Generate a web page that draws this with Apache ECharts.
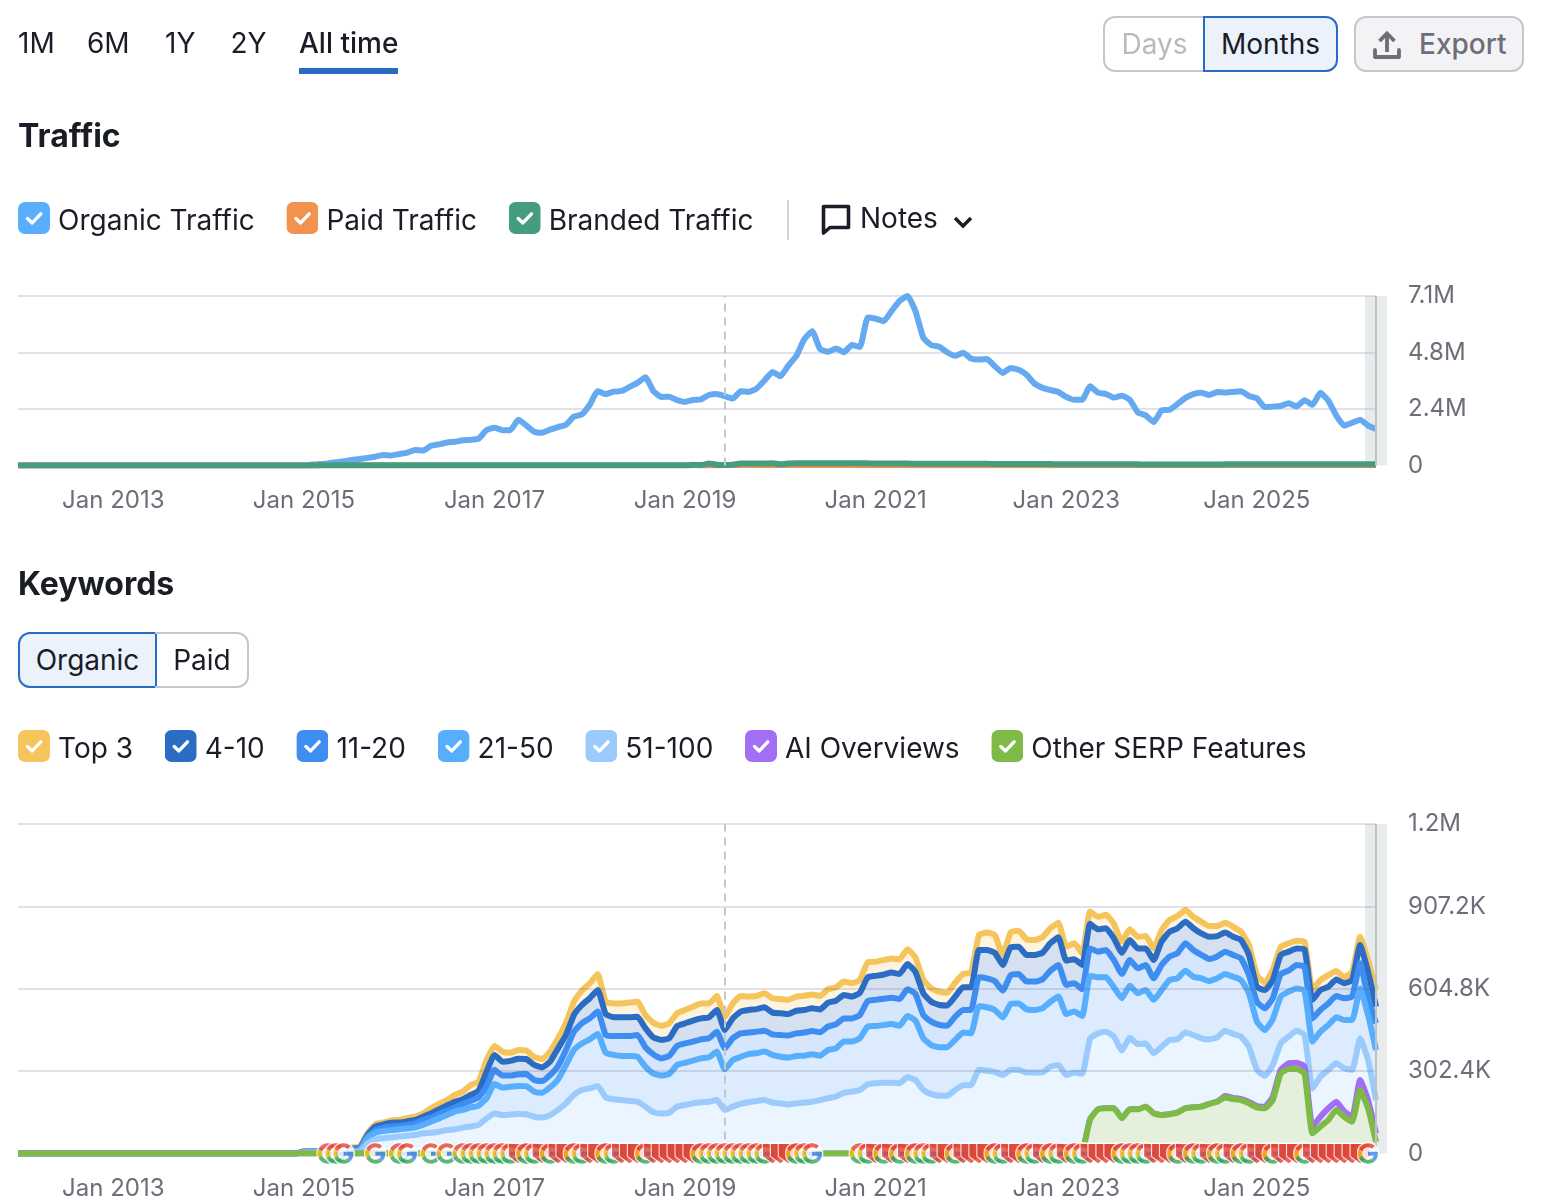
<!DOCTYPE html>
<html><head><meta charset="utf-8">
<script src="https://cdn.jsdelivr.net/npm/echarts@6/dist/echarts.min.js"></script>
<style>
html,body{margin:0;padding:0;background:#fff;font-family:Inter,"Noto Sans",sans-serif;color:#1a1c26}
#chart{position:absolute;left:0;top:0;width:1548px;height:1202px}
.ui{position:absolute;white-space:nowrap;line-height:1;box-sizing:border-box}
.tab{font-size:28px;top:29px}
.btn{top:16px;height:56px;font-size:28px;display:flex;align-items:center;justify-content:center;border:2px solid #c4c7cf}
.t2{top:632px;height:56px;font-size:28px;display:flex;align-items:center;justify-content:center;border:2px solid #c4c7cf}
</style></head><body>
<div id="chart"></div>
<div class="ui tab" style="left:18px">1M</div>
<div class="ui tab" style="left:87px">6M</div>
<div class="ui tab" style="left:165px">1Y</div>
<div class="ui tab" style="left:230.5px">2Y</div>
<div class="ui tab" style="left:299px;font-weight:500">All time</div>
<div class="ui" style="left:299px;top:68px;width:99px;height:6px;background:#2a6bc2"></div>
<div class="ui btn" style="left:1103px;width:101px;border-radius:12px 0 0 12px;color:#b9bac0;border-right:none">Days</div>
<div class="ui btn" style="left:1203px;width:135px;border-radius:0 12px 12px 0;background:#ebf2fc;border-color:#2a6bc2">Months</div>
<div class="ui btn" style="left:1354px;width:170px;border-radius:12px;background:#f3f3f5;color:#6c6e79;font-weight:500;justify-content:flex-start;padding-left:63px">Export
<svg style="position:absolute;left:16px;top:11px" width="30" height="32" viewBox="0 0 30 32"><path d="M15 23V5M7.5 12l7.5-7.5 7.5 7.5" fill="none" stroke="#6c6e79" stroke-width="3.8"/><path d="M3 21v7h24v-7" fill="none" stroke="#6c6e79" stroke-width="3.8" stroke-linejoin="round" stroke-linecap="round"/></svg></div>
<div class="ui" style="left:787px;top:200px;width:2px;height:40px;background:#d3d4da"></div>
<svg class="ui" style="left:820px;top:203px" width="32" height="32" viewBox="0 0 32 32"><path d="M3.5 3.5h25v21H10l-6.5 5.5z" fill="none" stroke="#1a1c26" stroke-width="3.6" stroke-linejoin="round"/></svg>
<div class="ui" style="left:860px;top:204px;font-size:28px">Notes</div>
<svg class="ui" style="left:952px;top:214px" width="22" height="16" viewBox="0 0 22 16"><path d="M3 4l8 8 8-8" fill="none" stroke="#1a1c26" stroke-width="3.4"/></svg>
<div class="ui t2" style="left:18px;width:139px;border-radius:12px 0 0 12px;background:#ebf2fc;border-color:#2a6bc2">Organic</div>
<div class="ui t2" style="left:155px;width:94px;border-radius:0 12px 12px 0;border-left:none;padding-left:2px">Paid</div>
<script>
// Time axis: one entry per month, Jan 2012 to Apr 2026
const monthNames=['Jan','Feb','Mar','Apr','May','Jun','Jul','Aug','Sep','Oct','Nov','Dec'];
const categories=[];
for(let y=2012;y<=2026;y++)for(let m=0;m<12;m++){if(y===2026&&m>3)break;categories.push(monthNames[m]+' '+y);}
const tickLabels=['Jan 2013','Jan 2015','Jan 2017','Jan 2019','Jan 2021','Jan 2023','Jan 2025'];
const markerMonth='Jun 2019';
const lastMonth='Apr 2026';

// Traffic, millions
const organicTraffic=[0,0,0,0,0,0,0,0,0,0,0,0,0,0,0,0,0,0,0,0,0,0,0,0,0,0,0,0,0,0,0,0,0,0,0,0,0,
.04,.06,.08,.14,.18,.23,.27,.32,.37,.44,.42,.48,.54,.65,.63,.83,.89,.97,1.0,1.06,1.08,1.13,1.49,1.59,1.49,1.49,1.93,1.69,1.42,1.38,1.51,1.62,1.72,2.06,2.15,2.56,3.13,3.01,3.11,3.14,3.31,3.48,3.72,3.14,2.89,2.90,2.75,2.68,2.76,
2.79,2.97,3.01,2.92,2.82,3.13,3.10,3.24,3.58,3.94,3.76,4.21,4.61,5.31,5.66,4.90,4.79,4.93,4.77,5.08,4.99,6.23,6.18,6.08,6.51,6.93,7.14,6.51,5.38,5.07,5.0,4.77,4.62,4.75,4.51,4.46,4.49,4.18,3.90,4.11,4.03,3.82,3.45,3.27,3.18,3.10,2.89,2.77,
2.77,3.34,3.07,3.01,2.86,2.94,2.77,2.24,2.11,1.83,2.32,2.35,2.59,2.85,3.01,3.06,2.97,3.10,3.07,3.10,3.13,2.93,2.83,2.46,2.48,2.51,2.62,2.49,2.75,2.56,3.06,2.73,2.10,1.68,1.80,1.93,1.68,1.54];
const paidTraffic=[0,0,0,0,0,0,0,0,0,0,0,0,0,0,0,0,0,0,0,0,0,0,0,0,0,0,0,0,0,0,0,0,0,0,0,0,0,0,0,0,0,0,0,0,0,0,0,0,0,0,0,0,0,0,0,0,0,0,0,0,0,0,0,0,0,0,0,0,0,0,0,0,0,0,0,0,0,0,0,0,0,0,0,0,0,
.03,0,0,0,.02,.02,.02,.02,.02,.01,.02,.02,.02,.02,.02,.02,.02,.02,.02,.02,.02,.01,.01,.01,.01,.01,.01,.01,.01,.01,.01,.01,.01,.01,.01,.01,.01,.01,.01,.01,.01,.01,.01,.01,.01,.01,.01,.01,.01,.01,.01,.01,.01,.01,.01,.01,.01,.01,.01,.01,.01,.01,.01,.01,.01,.01,.01,.01,.01,.01,.01,.01,.01,.01,.01,.01,.01,.01,.01,.01,.01,.01,.01,.01,.01,.01,.01];
const brandedTraffic=[0,0,0,0,0,0,0,0,0,0,0,0,0,0,0,0,0,0,0,0,0,0,0,0,0,0,0,0,0,0,0,0,0,0,0,0,0,0,
.01,.01,.01,.01,.01,.01,.01,.01,.01,.01,.01,.01,.01,.01,.01,.01,.01,.01,.01,.01,.01,.01,.01,.01,.01,.01,.01,.01,.01,.01,.01,.01,.01,.01,.01,.01,.01,.01,.01,.01,.01,.01,.01,.01,.01,.01,.01,.02,.02,
.08,.03,.02,.03,.08,.08,.08,.08,.09,.05,.08,.10,.10,.10,.10,.10,.10,.10,.10,.10,.09,.08,.08,.08,.08,.08,.07,.07,.07,.07,.07,.07,.07,.07,.07,.07,.06,.06,.06,.06,.06,.06,.06,.06,.05,.05,.05,.05,.05,.05,.05,.05,.05,.05,.05,.04,.04,.04,.04,.04,.04,.04,.04,.04,.04,.05,.05,.05,.05,.05,.05,.05,.05,.05,.05,.05,.05,.05,.05,.05,.05,.05,.05,.05,.05];

// Keywords, thousands: level of each drawn line
const top3=[0,0,0,0,0,0,0,0,0,0,0,0,0,0,0,0,0,0,0,0,0,0,0,0,0,0,0,0,0,0,0,0,0,0,0,0,8,8,8,8,8,8,22,24,
74,107,114,121,124,130,135,147,166,182,196,215,227,251,264,343,395,374,370,380,378,355,347,374,423,478,557,598,625,659,557,551,551,554,557,508,480,469,478,515,527,539,551,551,578,502,551,578,
576,578,588,570,567,564,576,579,584,578,603,610,631,625,637,702,704,710,716,713,750,720,637,606,594,590,627,659,664,802,811,802,729,812,818,786,784,794,827,847,759,772,735,888,869,876,843,778,823,796,798,753,820,857,872,894,869,851,835,835,847,833,814,765,655,627,674,759,772,781,778,600,637,655,670,647,667,796,710,600];
const pos4to10=[0,0,0,0,0,0,0,0,0,0,0,0,0,0,0,0,0,0,0,0,0,0,0,0,0,0,0,0,0,0,0,0,0,0,0,0,7,7,7,7,7,7,18,20,
68,99,107,113,114,118,123,135,147,162,176,190,199,215,231,300,362,337,340,348,347,325,316,337,386,435,508,545,570,600,512,500,500,500,502,460,426,417,423,468,478,488,496,500,527,453,496,521,
527,530,537,517,515,512,524,527,533,529,554,561,582,576,590,647,652,657,664,659,696,667,588,557,545,543,576,610,610,747,747,737,692,757,759,729,729,737,772,794,708,713,692,843,823,827,790,737,784,753,753,710,778,814,827,851,827,808,796,798,811,796,784,729,612,600,637,729,741,753,750,564,600,612,639,625,637,765,667,539];
const pos11to20=[0,0,0,0,0,0,0,0,0,0,0,0,0,0,0,0,0,0,0,0,0,0,0,0,0,0,0,0,0,0,0,0,0,0,0,0,6,6,6,6,6,6,14,16,
62,86,95,99,101,105,111,123,132,145,157,169,182,193,206,245,307,286,286,291,292,270,266,288,321,380,447,478,496,521,435,431,431,431,435,390,364,349,358,395,404,411,419,423,447,386,423,441,
444,447,451,437,435,433,441,444,450,445,466,474,496,496,508,560,564,568,572,567,603,586,508,484,472,469,502,527,527,647,643,633,598,655,659,631,631,639,671,692,619,625,603,753,741,747,710,659,710,680,692,643,692,723,735,772,747,729,714,723,741,729,716,655,557,533,570,659,671,692,686,496,527,551,578,570,576,698,570,478];
const pos21to50=[0,0,0,0,0,0,0,0,0,0,0,0,0,0,0,0,0,0,0,0,0,0,0,0,0,0,0,0,0,0,0,0,0,0,0,0,5,5,5,5,5,5,10,12,
56,76,83,86,89,92,96,105,117,129,141,154,160,169,176,203,255,242,245,248,247,227,223,243,272,325,380,404,419,439,370,362,358,358,355,319,294,286,292,325,333,341,349,353,374,309,343,355,
365,368,374,362,355,352,358,359,364,359,380,386,411,411,423,466,468,472,475,469,505,488,423,398,390,390,417,444,441,541,537,527,500,549,551,529,527,533,557,576,512,521,505,652,647,647,610,570,616,588,600,564,600,637,643,671,649,643,633,643,659,649,637,588,484,453,493,576,594,606,598,411,447,472,500,490,490,606,508,380];
const pos51to100=[0,0,0,0,0,0,0,0,0,0,0,0,0,0,0,0,0,0,0,0,0,0,0,0,0,0,0,0,0,0,0,0,0,0,0,0,4,4,4,4,4,4,5,6,
37,52,56,59,62,65,68,74,76,80,86,89,95,99,105,129,147,141,143,145,144,135,132,141,160,184,215,233,239,248,206,199,196,193,190,172,151,147,150,172,178,184,188,190,196,160,172,182,
188,193,196,187,184,180,184,187,190,196,203,209,223,227,233,254,258,260,260,258,280,270,233,218,212,212,233,251,251,307,304,300,288,307,307,297,297,298,319,325,288,297,294,423,441,447,429,378,425,402,404,368,392,417,419,444,435,423,419,426,451,439,429,392,307,285,325,404,429,451,435,239,282,307,331,313,307,423,343,196];
const otherSerp=[0,0,0,0,0,0,0,0,0,0,0,0,0,0,0,0,0,0,0,0,0,0,0,0,0,0,0,0,0,0,0,0,0,0,0,0,0,0,0,0,0,0,0,0,0,0,0,0,0,0,0,0,0,0,0,0,0,0,0,0,0,0,0,0,0,0,0,0,0,0,0,0,0,0,0,0,0,0,0,0,0,0,0,0,0,0,0,0,0,0,0,0,0,0,0,0,0,0,0,0,0,0,0,0,0,0,0,0,0,0,0,0,0,0,0,0,0,0,0,0,0,0,0,0,0,0,0,0,0,0,0,0,0,0,
5,125,162,166,166,129,162,162,172,147,141,144,150,166,169,172,182,190,206,200,196,184,169,166,196,294,310,310,294,74,99,123,160,135,117,233,166,43];
const aiOverviews=[0,0,0,0,0,0,0,0,0,0,0,0,0,0,0,0,0,0,0,0,0,0,0,0,0,0,0,0,0,0,0,0,0,0,0,0,0,0,0,0,0,0,0,0,0,0,0,0,0,0,0,0,0,0,0,0,0,0,0,0,0,0,0,0,0,0,0,0,0,0,0,0,0,0,0,0,0,0,0,0,0,0,0,0,0,0,0,0,0,0,0,0,0,0,0,0,0,0,0,0,0,0,0,0,0,0,0,0,0,0,0,0,0,0,0,0,0,0,0,0,0,0,0,0,0,0,0,0,0,0,0,0,0,0,
5,125,162,166,166,129,162,162,172,147,141,144,150,166,169,172,182,190,211,204,200,189,174,172,209,307,331,333,319,99,135,166,190,154,135,270,196,74];

// Months (index into categories) that carry a note icon
const googleNotes=[39,40,41,45,48,49,52,54,56,57,58,59,60,61,62,64,65,67,70,71,74,75,79,86,87,88,89,90,91,92,93,94,98,99,100,106,107,109,111,113,114,115,118,123,124,127,128,130,131,133,134,139,140,141,142,146,148,149,151,152,154,155,158,162,170];
const redNotes=[63,66,68,69,72,73,76,77,78,80,81,82,83,84,85,95,96,97,108,110,112,116,117,119,120,121,122,125,126,129,132,135,136,137,138,143,144,145,147,150,153,156,157,159,160,161,163,164,165,166,167,168,169];

const svgUri=s=>'image://data:image/svg+xml;charset=utf-8,'+encodeURIComponent(s);
const checkIcon=c=>svgUri(`<svg xmlns="http://www.w3.org/2000/svg" width="64" height="80" viewBox="0 0 32 40"><rect width="32" height="32" rx="7" fill="${c}"/><path d="M9.5 16.5l4.7 4.4 8.6-9" fill="none" stroke="#fff" stroke-width="3.4" stroke-linecap="round" stroke-linejoin="round"/></svg>`);
const googleIcon=svgUri(`<svg xmlns="http://www.w3.org/2000/svg" width="66" height="66" viewBox="-3 -3 54 54"><circle cx="24" cy="24" r="27" fill="#fff"/><path fill="#EA4335" d="M24 9.5c3.54 0 6.71 1.22 9.21 3.6l6.85-6.85C35.9 2.38 30.47 0 24 0 14.62 0 6.51 5.38 2.56 13.22l7.98 6.19C12.43 13.72 17.74 9.5 24 9.5z"/><path fill="#4285F4" d="M46.98 24.55c0-1.57-.15-3.09-.38-4.55H24v9.02h12.94c-.58 2.96-2.26 5.48-4.78 7.18l7.73 6c4.51-4.18 7.09-10.36 7.09-17.65z"/><path fill="#FBBC05" d="M10.53 28.59c-.48-1.45-.76-2.99-.76-4.59s.27-3.14.76-4.59l-7.98-6.19C.92 16.46 0 20.12 0 24c0 3.88.92 7.54 2.56 10.78l7.97-6.19z"/><path fill="#34A853" d="M24 48c6.48 0 11.93-2.13 15.89-5.81l-7.73-6c-2.15 1.45-4.92 2.3-8.16 2.3-6.26 0-11.57-4.22-13.47-9.91l-7.98 6.19C6.51 42.62 14.62 48 24 48z"/></svg>`);
const redIcon=svgUri(`<svg xmlns="http://www.w3.org/2000/svg" width="66" height="66" viewBox="0 0 24 24"><path d="M1.5 1.5H22.5V15L12 23 1.5 15z" fill="#dd4437" stroke="#fff" stroke-width="1.2"/></svg>`);

const noteData=[...googleNotes.map(i=>[i,googleIcon]),...redNotes.map(i=>[i,redIcon])].sort((a,b)=>a[0]-b[0])
  .map(([i,sym])=>({value:[categories[i],0],symbol:sym}));

const axisText={color:'#6c6e79',fontSize:24,fontFamily:'Inter'};
const legendText={color:'#1a1c26',fontSize:28,fontFamily:'Inter',padding:[0,0,0,3]};
const L=18,R=172; // grid side margins
function xAxis(gi){return{type:'category',gridIndex:gi,data:categories,boundaryGap:false,
  axisLine:{show:false},axisTick:{show:false},splitLine:{show:false},
  axisLabel:{...axisText,margin:23,interval:(i,v)=>tickLabels.includes(v),hideOverlap:false}};}
function yAxis(gi,max,interval,fmt,grid,z){return{type:'value',gridIndex:gi,position:'right',min:0,max,interval,z,
  axisLine:{show:false},axisTick:{show:false},
  splitLine:{showMinLine:false,lineStyle:{color:grid,width:2}},
  axisLabel:{...axisText,margin:32,align:'left',formatter:fmt}};}
const markers=()=>({silent:true,symbol:'none',label:{show:false},animation:false,
  data:[{xAxis:markerMonth,lineStyle:{color:'#c4c7cf',type:[8,6],width:2}},{xAxis:lastMonth,lineStyle:{color:'#bcc3c5',type:'solid',width:2}}]});
const band=(top,bottom)=>({silent:true,itemStyle:{color:'rgba(170,182,186,0.27)'},label:{show:false},data:[[{x:1365,y:top},{x:1376,y:bottom}]]});
function line(name,data,color,gi,fill,extra){
  const s={name,type:'line',data,xAxisIndex:gi,yAxisIndex:gi,symbol:'none',showSymbol:false,smooth:0.15,
    lineStyle:{color,width:6,join:'round',cap:'butt'},itemStyle:{color},z:2,...extra};
  if(fill)s.areaStyle={color:fill,opacity:1};
  return s;
}

const chart=echarts.init(document.getElementById('chart'));
chart.setOption({
  animation:false,backgroundColor:'#fff',
  title:[
    {text:'Traffic',left:18,top:121,padding:0,textStyle:{fontFamily:'Inter',fontSize:32,fontWeight:700,color:'#1a1c26'}},
    {text:'Keywords',left:18,top:569,padding:0,textStyle:{fontFamily:'Inter',fontSize:32,fontWeight:700,color:'#1a1c26'}}
  ],
  legend:[
    {left:18,top:202,padding:0,itemGap:31.7,itemWidth:32,itemHeight:40,textStyle:legendText,selectedMode:false,
     data:[{name:'Organic Traffic',icon:checkIcon('#59aeff')},{name:'Paid Traffic',icon:checkIcon('#f2924f')},{name:'Branded Traffic',icon:checkIcon('#459c7e')}]},
    {left:18,top:730,padding:0,itemGap:31.7,itemWidth:32,itemHeight:40,textStyle:legendText,selectedMode:false,
     data:[{name:'Top 3',icon:checkIcon('#f5c45a')},{name:'4-10',icon:checkIcon('#2b6cc4')},{name:'11-20',icon:checkIcon('#3e8df0')},{name:'21-50',icon:checkIcon('#57aefc')},{name:'51-100',icon:checkIcon('#9bcbfd')},{name:'AI Overviews',icon:checkIcon('#a26ef5')},{name:'Other SERP Features',icon:checkIcon('#7dba46')}]}
  ],
  grid:[{left:L,right:R,top:296,height:169.5},{left:L,right:R,top:824,height:329.5}],
  xAxis:[xAxis(0),xAxis(1)],
  yAxis:[
    yAxis(0,7.14,2.38,v=>v?v.toFixed(1)+'M':'0','#e0e1e9',0),
    yAxis(1,1209.6,302.4,v=>v>=1000?(v/1000).toFixed(1)+'M':(v?v.toFixed(1)+'K':'0'),'rgba(90,90,130,0.18)',3)
  ],
  series:[
    line('Organic Traffic',organicTraffic,'#65aaf0',0,null,{markLine:markers(),markArea:band(296,465.5)}),
    line('Paid Traffic',paidTraffic,'#f2924f',0,null,{z:3}),
    line('Branded Traffic',brandedTraffic,'#459c7e',0,null,{z:4}),
    line('Top 3',top3,'#f5c45a',1,'#fef3df'),
    line('4-10',pos4to10,'#2b6cc4',1,'#d5e0f1'),
    line('11-20',pos11to20,'#3e8df0',1,'#d6e6fc'),
    line('21-50',pos21to50,'#57aefc',1,'#dcecfe'),
    line('51-100',pos51to100,'#9bcbfd',1,'#ebf5ff'),
    line('AI Overviews',aiOverviews,'#a26ef5',1,'#eee3fd'),
    line('Other SERP Features',otherSerp,'#7dba46',1,'#e4f0db',{z:4,markLine:markers(),markArea:band(824,1153.5)}),
    {name:'Notes',type:'scatter',xAxisIndex:1,yAxisIndex:1,data:noteData,symbolSize:23,clip:false,z:6,silent:true}
  ],
  graphic:[
    {type:'rect',silent:true,shape:{x:1376,y:296,width:11,height:169.5},style:{fill:'#e9ecec'},z:0},
    {type:'rect',silent:true,shape:{x:1376,y:824,width:11,height:329.5},style:{fill:'#e9ecec'},z:0}
  ]
});
</script>
</body></html>
